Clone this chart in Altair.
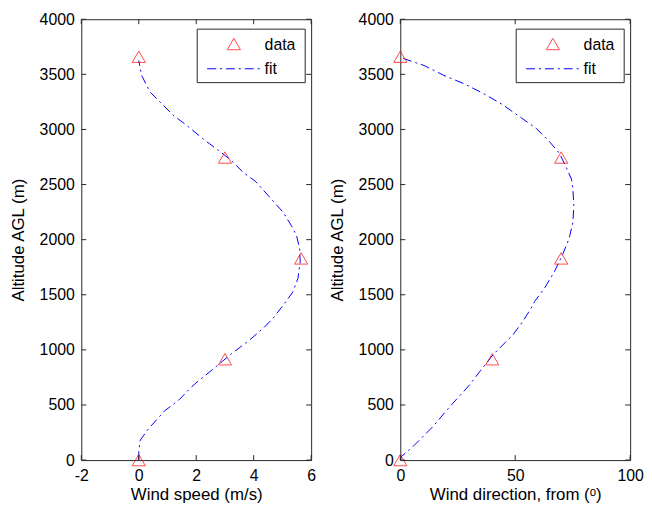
import altair as alt
import pandas as pd

# ---- data ----
ALT_DATA = [0, 915, 1830, 2745, 3660]
SPEED_DATA = [0.0, 3.0, 5.65, 3.0, 0.0]
DIR_DATA = [0, 40, 70, 70, 0]

FIT_SPEED_ALT = [0, 75, 180, 285, 449, 539, 689, 809, 959, 1094, 1198, 1288, 1423, 1528,
                 1648, 1798, 1917, 2038, 2128, 2247, 2382, 2532, 2607, 2726, 2816, 2906,
                 3041, 3131, 3236, 3341, 3490, 3625]
FIT_SPEED = [0.0, 0.0, 0.05, 0.34, 0.91, 1.37, 1.94, 2.51, 3.20, 3.88, 4.34, 4.68, 5.08, 5.37,
             5.54, 5.62, 5.60, 5.49, 5.31, 5.03, 4.57, 4.05, 3.65, 3.19, 2.74, 2.28,
             1.65, 1.19, 0.79, 0.39, 0.10, 0.0]

FIT_DIR_ALT = [0, 30, 135, 300, 510, 674, 809, 959, 1139, 1258, 1378, 1438, 1558, 1708,
               1858, 2007, 2157, 2308, 2457, 2547, 2667, 2787, 2892, 3011, 3116, 3221,
               3326, 3416, 3490, 3580, 3640, 3660]
FIT_DIR = [0, 0.4, 6.1, 14.0, 22.6, 29.8, 34.8, 40.5, 49.1, 53.3, 56.9, 58.4, 62.7, 67.0,
           70.5, 73.4, 75.1, 75.5, 75.1, 74.5, 72.0, 69.1, 64.8, 59.1, 51.9, 44.8,
           36.2, 27.6, 19.0, 10.4, 1.8, 0]

Y_TICKS = [0, 500, 1000, 1500, 2000, 2500, 3000, 3500, 4000]
SPEED_TICKS = [-2, 0, 2, 4, 6]
DIR_TICKS = [0, 50, 100]

W, H = 232, 445
FONT = "Liberation Sans"
AXC = "#262626"
DASH = [9, 4, 2, 4]
TK = 5
TRI = 177
LX = W - 115  # legend box left edge inside the plot


def panel(xdata, fit_alt, fit_x, xdomain, xticks, xtitle):
    pts = pd.DataFrame({"x": xdata, "alt": ALT_DATA})
    fit = pd.DataFrame({"x": fit_x, "alt": fit_alt})
    ytk = pd.DataFrame({"alt": Y_TICKS})
    xtk = pd.DataFrame({"x": xticks})
    one = pd.DataFrame({"k": [0]})

    xs = alt.Scale(domain=xdomain, nice=False, zero=False)
    ys = alt.Scale(domain=[0, 4000], nice=False, zero=False)
    xax = alt.Axis(values=xticks, title=xtitle, grid=False, domain=False, ticks=False,
                   labelPadding=8, titlePadding=3, labelFlush=False, labelOverlap=False,
                   labelExpr="'' + datum.value")
    yax = alt.Axis(values=Y_TICKS, title="Altitude AGL (m)", grid=False, domain=False,
                   ticks=False, labelPadding=7, titlePadding=12, labelFlush=False,
                   labelOverlap=False, labelExpr="'' + datum.value")

    line = alt.Chart(fit).mark_line(color="#0000ff", strokeWidth=1, strokeDash=DASH).encode(
        x=alt.X("x:Q", scale=xs, axis=xax),
        y=alt.Y("alt:Q", scale=ys, axis=yax),
        order=alt.Order("alt:Q"),
    )
    points = alt.Chart(pts).mark_point(shape="triangle-up", color="#ff0000", filled=False,
                                       size=TRI, strokeWidth=1).encode(
        x=alt.X("x:Q", scale=xs), y=alt.Y("alt:Q", scale=ys))

    lt = alt.Chart(ytk).mark_rule(color=AXC).encode(
        y=alt.Y("alt:Q", scale=ys), x=alt.value(0), x2=alt.value(TK))
    rt = alt.Chart(ytk).mark_rule(color=AXC).encode(
        y=alt.Y("alt:Q", scale=ys), x=alt.value(W - TK), x2=alt.value(W))
    bt = alt.Chart(xtk).mark_rule(color=AXC).encode(
        x=alt.X("x:Q", scale=xs), y=alt.value(H), y2=alt.value(H - TK))
    tt = alt.Chart(xtk).mark_rule(color=AXC).encode(
        x=alt.X("x:Q", scale=xs), y=alt.value(0), y2=alt.value(TK))

    box = alt.Chart(one).mark_rect(fill="white", stroke=AXC, strokeWidth=1).encode(
        x=alt.value(LX), x2=alt.value(LX + 109), y=alt.value(10), y2=alt.value(64))
    lg_tri = alt.Chart(one).mark_point(shape="triangle-up", color="#ff0000", filled=False,
                                       size=TRI, strokeWidth=1).encode(
        x=alt.value(LX + 37), y=alt.value(25))
    lg_line = alt.Chart(one).mark_rule(color="#0000ff", strokeWidth=1, strokeDash=DASH).encode(
        x=alt.value(LX + 10), x2=alt.value(LX + 63), y=alt.value(50))
    lg_t1 = alt.Chart(one).mark_text(text="data", align="left", baseline="middle",
                                     font=FONT, fontSize=16, color="black").encode(
        x=alt.value(LX + 68), y=alt.value(26))
    lg_t2 = alt.Chart(one).mark_text(text="fit", align="left", baseline="middle",
                                     font=FONT, fontSize=16, color="black").encode(
        x=alt.value(LX + 68), y=alt.value(50))

    return alt.layer(line, points, lt, rt, bt, tt, box, lg_tri, lg_line, lg_t1, lg_t2).properties(
        width=W, height=H)


left = panel(SPEED_DATA, FIT_SPEED_ALT, FIT_SPEED, [-2, 6], SPEED_TICKS, "Wind speed (m/s)")
right = panel(DIR_DATA, FIT_DIR_ALT, FIT_DIR, [0, 100], DIR_TICKS, "Wind direction, from (ᵒ)")

chart = alt.hconcat(left, right, spacing=11).properties(
    padding={"left": 0, "top": 0, "right": 0, "bottom": 0},
    background="white",
).configure_view(stroke=AXC, strokeWidth=1).configure_axis(
    labelFont=FONT, titleFont=FONT, labelFontSize=16, titleFontSize=17,
    labelColor="black", titleColor="black", titleFontWeight="normal",
)

chart.save("out.html", embed_options={"renderer": "svg", "actions": False})
